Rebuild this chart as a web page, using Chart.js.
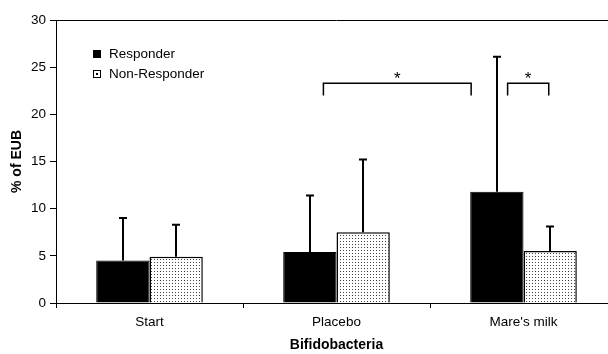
<!DOCTYPE html>
<html>
<head>
<meta charset="utf-8">
<script src="https://cdn.jsdelivr.net/npm/chart.js@4.4.0/dist/chart.umd.min.js"></script>
<style>
  html, body { margin: 0; padding: 0; background: #fff; overflow: hidden; width: 608px; height: 354px; }
  #wrap { width: 640px; height: 354px; }
</style>
</head>
<body>
<div id="wrap"><canvas id="c" width="640" height="354"></canvas></div>
<script>
// ---- data ----
const categories = ['Start', 'Placebo', "Mare's milk"];
const seriesNames = ['Responder', 'Non-Responder'];
const responder = [4.5, 5.4, 11.8];
const responderSD = [4.5, 6.0, 14.3];
const nonResponder = [4.9, 7.5, 5.5];
const nonResponderSD = [3.4, 7.7, 2.6];
const yTicks = [0, 5, 10, 15, 20, 25, 30];
const axisTitleY = '% of EUB';
const axisTitleX = 'Bifidobacteria';
// significance brackets: [from (category index), to (category index), level, leg bottom]
const bracketFrom = [0.93, 1.915];
const bracketTo = [1.72, 2.135];
const bracketLevel = [23.3, 23.3];
const bracketLeg = [22.0, 22.0];
const bracketLabel = ['*', '*'];

// dotted pattern
function dotPattern() {
  const p = document.createElement('canvas');
  p.width = 3; p.height = 3;
  const g = p.getContext('2d');
  g.fillStyle = '#fff'; g.fillRect(0, 0, 3, 3);
  g.fillStyle = '#444'; g.fillRect(1, 1, 1, 1);
  return g.createPattern(p, 'repeat');
}
const ctxMain = document.getElementById('c').getContext('2d');
const pat = dotPattern();

const FONT = "'Liberation Sans', Arial, sans-serif";

const errorBars = {
  id: 'errorBars',
  afterDatasetsDraw(chart) {
    const ctx = chart.ctx;
    const ys = chart.scales.y;
    const errs = [responderSD, nonResponderSD];
    ctx.save();
    ctx.strokeStyle = '#000';
    ctx.lineWidth = 2;
    chart.data.datasets.forEach((ds, di) => {
      const meta = chart.getDatasetMeta(di);
      meta.data.forEach((bar, i) => {
        const top = ys.getPixelForValue(ds.data[i] + errs[di][i]);
        const x = Math.round(bar.x);
        ctx.beginPath();
        ctx.moveTo(x, bar.y);
        ctx.lineTo(x, top);
        ctx.moveTo(x - 4, top);
        ctx.lineTo(x + 4, top);
        ctx.stroke();
      });
    });
    ctx.restore();
  }
};

const extras = {
  id: 'extras',
  afterDraw(chart) {
    const ctx = chart.ctx;
    const a = chart.chartArea;
    const xs = chart.scales.x, ys = chart.scales.y;
    ctx.save();
    // top frame line
    ctx.strokeStyle = '#000';
    ctx.lineWidth = 1;
    ctx.beginPath();
    ctx.moveTo(a.left, a.top + 0.5);
    ctx.lineTo(a.right, a.top + 0.5);
    ctx.stroke();
    // brackets
    ctx.lineWidth = 1.5;
    ctx.fillStyle = '#000';
    ctx.textAlign = 'center';
    ctx.textBaseline = 'middle';
    ctx.font = '17px ' + FONT;
    for (let k = 0; k < bracketFrom.length; k++) {
      const x1 = xs.getPixelForValue(bracketFrom[k]);
      const x2 = xs.getPixelForValue(bracketTo[k]);
      const yl = ys.getPixelForValue(bracketLevel[k]);
      const yb = ys.getPixelForValue(bracketLeg[k]);
      ctx.beginPath();
      ctx.moveTo(x1, yb);
      ctx.lineTo(x1, yl);
      ctx.lineTo(x2, yl);
      ctx.lineTo(x2, yb);
      ctx.stroke();
      ctx.fillText(bracketLabel[k], (x1 + x2) / 2, yl - 4);
    }
    // legend
    ctx.font = '13.5px ' + FONT;
    ctx.textAlign = 'left';
    ctx.lineWidth = 1;
    chart.data.datasets.forEach((ds, di) => {
      const yc = 54 + di * 20;
      const bx = 93, s = 8;
      ctx.fillStyle = di === 0 ? '#000' : '#fff';
      ctx.fillRect(bx, yc - s / 2, s, s);
      ctx.strokeStyle = '#000';
      ctx.strokeRect(bx + 0.5, yc - s / 2 + 0.5, s - 1, s - 1);
      if (di === 1) { ctx.fillStyle = '#000'; ctx.fillRect(bx + 3, yc - 1, 2, 2); }
      ctx.fillStyle = '#000';
      ctx.fillText(ds.label, 109, yc);
    });
    ctx.restore();
  }
};

new Chart(ctxMain, {
  type: 'bar',
  data: {
    labels: categories,
    datasets: [
      { label: seriesNames[0], data: responder, backgroundColor: '#000', borderColor: '#000', borderWidth: 1 },
      { label: seriesNames[1], data: nonResponder, backgroundColor: pat, borderColor: '#000', borderWidth: 1.5 }
    ]
  },
  options: {
    responsive: false,
    animation: false,
    events: [],
    layout: { padding: { top: 20, right: 23, left: 0, bottom: 0 } },
    datasets: { bar: { categoryPercentage: 0.57, barPercentage: 1.0 } },
    plugins: { legend: { display: false }, tooltip: { enabled: false } },
    scales: {
      x: {
        grid: { display: true, drawOnChartArea: false, drawTicks: true, tickLength: 5, color: '#000', offset: true },
        border: { display: true, color: '#000', width: 1 },
        ticks: { color: '#000', font: { family: FONT, size: 13.5 }, padding: 6, maxRotation: 0 },
        title: { display: true, text: axisTitleX, color: '#000', font: { family: FONT, size: 14, weight: 'bold' }, padding: { top: 4, bottom: 0 } },
        afterFit(s) { s.height = 51; }
      },
      y: {
        min: 0, max: 30,
        afterBuildTicks(s) { s.ticks = yTicks.map(v => ({ value: v })); },
        grid: { display: true, drawOnChartArea: false, drawTicks: true, tickLength: 6, color: '#000' },
        border: { display: true, color: '#000', width: 1 },
        ticks: { color: '#000', font: { family: FONT, size: 13.5 }, padding: 4 },
        title: { display: true, text: axisTitleY, color: '#000', font: { family: FONT, size: 14, weight: 'bold' }, padding: { top: 9, bottom: 0 } },
        afterFit(s) { s.width = 56; }
      }
    }
  },
  plugins: [errorBars, extras]
});
</script>
</body>
</html>
